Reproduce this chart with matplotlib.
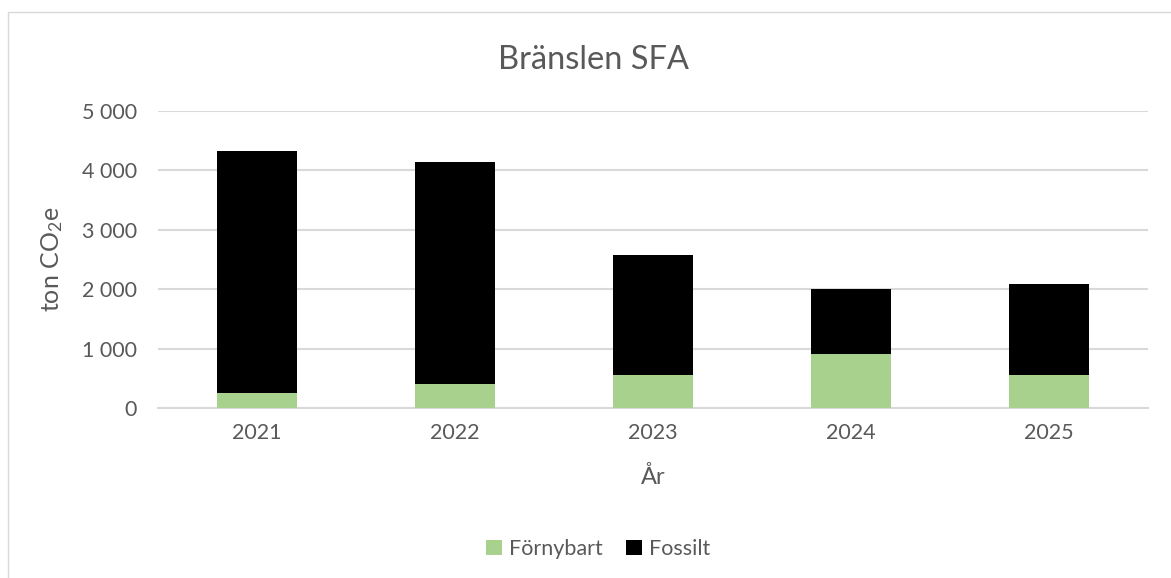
import numpy as np
import matplotlib
matplotlib.use("Agg")
import matplotlib.pyplot as plt
from matplotlib.patches import Rectangle
from matplotlib.ticker import FuncFormatter

# Data: ton CO2e per year
years = ["2021", "2022", "2023", "2024", "2025"]
fornybart = [247, 404, 555, 909, 560]
fossilt = [4080, 3731, 2020, 1100, 1535]

plt.rcParams['font.family'] = ['Lato', 'DejaVu Sans']
plt.rcParams['mathtext.fontset'] = 'custom'
plt.rcParams['mathtext.rm'] = 'Lato'
plt.rcParams['mathtext.it'] = 'Lato'

text_col = '#595959'
grid_col = '#d9d9d9'

fig = plt.figure(figsize=(11.71, 5.78), dpi=100)
W, H = 1171, 578
ax = fig.add_axes([158 / W, 1 - 408 / H, 990 / W, 297 / H])

# chart area frame
fig.patches.append(Rectangle((8 / W, -0.1), 1.2, 1 - 12 / H + 0.1,
                             transform=fig.transFigure, fill=False,
                             edgecolor='#d9d9d9', linewidth=1.0))

x = np.arange(len(years))
ax.bar(x, fornybart, width=0.4, color='#a9d18e', label='Förnybart', zorder=3)
ax.bar(x, fossilt, width=0.4, bottom=fornybart, color='#000000', label='Fossilt', zorder=3)

ax.set_xlim(-0.5, len(years) - 0.5)
ax.set_ylim(0, 5000)
ax.set_yticks(np.arange(0, 5001, 1000))
ax.yaxis.set_major_formatter(FuncFormatter(lambda v, p: f"{int(v):,}".replace(",", " ")))
ax.set_xticks(x)
ax.set_xticklabels(years)
ax.grid(axis='y', color=grid_col, linewidth=1.5, zorder=0)
for s in ['top', 'right', 'left']:
    ax.spines[s].set_visible(False)
ax.spines['bottom'].set_color(grid_col)
ax.spines['bottom'].set_linewidth(1.5)
ax.tick_params(axis='both', length=0, labelsize=15.5, labelcolor=text_col)
ax.tick_params(axis='y', pad=15)
ax.tick_params(axis='x', pad=11)

ax.set_xlabel('År', fontsize=17, color=text_col, labelpad=16)
ax.set_ylabel('ton CO$_2$e', fontsize=18, color=text_col, labelpad=12)
fig.text(593 / W, 1 - 60 / H, 'Bränslen SFA', fontsize=23.5, color=text_col,
         ha='center', va='center')

fig.legend(loc='center', bbox_to_anchor=(598 / W, 1 - 549 / H), ncol=2,
           frameon=False, fontsize=15.5, labelcolor=text_col,
           handlelength=0.75, handleheight=0.75, handletextpad=0.3,
           columnspacing=1.1)

fig.savefig('out.png', dpi=100, facecolor='white')
